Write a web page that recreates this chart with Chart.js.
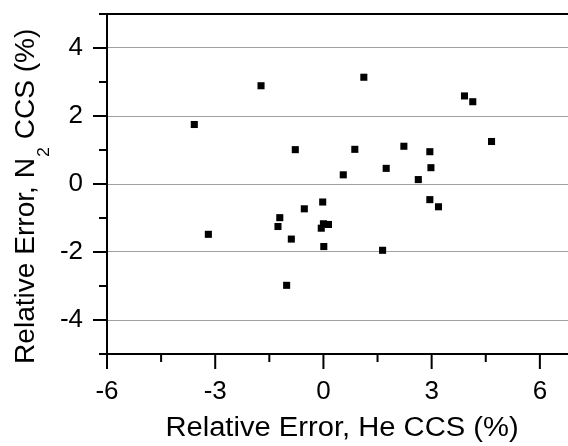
<!DOCTYPE html>
<html>
<head>
<meta charset="utf-8">
<script src="https://cdn.jsdelivr.net/npm/chart.js@4.4.1/dist/chart.umd.min.js"></script>
<style>
    html, body { margin: 0; padding: 0; background: #fff; }
    #wrap { width: 568px; height: 446px; }
</style>
</head>
<body>
<div id="wrap"><canvas id="myChart"></canvas></div>
<script>
// relative errors (%)
const heErr = [-3.58, -1.73, 1.12, 3.91, 4.14, -0.78, 0.87, 2.23, 2.95, 4.66,
    0.55, 1.74, 2.98, 2.63, 2.95, 3.19, -0.02, -0.53, -1.21, -1.26,
    0.00, 0.14, -0.06, -3.19, -0.89, 0.01, 1.64, -1.02];
const n2Err = [1.75, 2.89, 3.14, 2.59, 2.42, 1.01, 1.02, 1.11, 0.95, 1.25,
    0.27, 0.46, 0.48, 0.13, -0.46, -0.67, -0.53, -0.73, -0.99, -1.25,
    -1.17, -1.19, -1.30, -1.48, -1.62, -1.84, -1.95, -2.98];

const xTicks = [-6, -3, 0, 3, 6];
const xMinor = [-4.5, -1.5, 1.5, 4.5];
const yTicks = [-4, -2, 0, 2, 4];
const yMinor = [-5, -3, -1, 1, 3, 5];

const FONT = 'Arial, "Liberation Sans", sans-serif';

Chart.defaults.font.family = FONT;
Chart.defaults.color = '#000';

// axis frame, tick marks and axis titles (with the N2 subscript)
const frame = {
    id: 'frame',
    afterDraw(chart) {
        const {ctx, chartArea: a, scales: {x, y}} = chart;
        ctx.save();
        ctx.strokeStyle = '#000';
        ctx.lineWidth = 2;
        ctx.beginPath();
        ctx.moveTo(a.left, a.top); ctx.lineTo(a.right, a.top);
        ctx.moveTo(a.left, a.top); ctx.lineTo(a.left, a.bottom);
        ctx.moveTo(a.left, a.bottom); ctx.lineTo(a.right, a.bottom);
        yTicks.forEach(v => {
            const p = y.getPixelForValue(v);
            ctx.moveTo(a.left - 14, p); ctx.lineTo(a.left, p);
        });
        yMinor.forEach(v => {
            const p = y.getPixelForValue(v);
            ctx.moveTo(a.left - 8, p); ctx.lineTo(a.left, p);
        });
        xTicks.forEach(v => {
            const p = x.getPixelForValue(v);
            ctx.moveTo(p, a.bottom); ctx.lineTo(p, a.bottom + 15);
        });
        xMinor.forEach(v => {
            const p = x.getPixelForValue(v);
            ctx.moveTo(p, a.bottom); ctx.lineTo(p, a.bottom + 8);
        });
        ctx.stroke();

        ctx.fillStyle = '#000';
        ctx.textBaseline = 'alphabetic';
        ctx.font = '27px ' + FONT;

        // x title, a little wider than the installed Arial metric
        ctx.save();
        ctx.translate(342, 436);
        ctx.scale(1.08, 1);
        ctx.textAlign = 'center';
        ctx.fillText('Relative Error, He CCS (%)', 0, 0);
        ctx.restore();

        // y title with subscript
        ctx.translate(33.5, 364);
        ctx.rotate(-Math.PI / 2);
        ctx.scale(1.04, 1);
        ctx.textAlign = 'left';
        const s1 = 'Relative Error, N';
        ctx.fillText(s1, 0, 0);
        let w = ctx.measureText(s1).width;
        ctx.font = '17px ' + FONT;
        ctx.fillText('2', w + 1, 15);
        w += ctx.measureText('2').width + 1;
        ctx.font = '27px ' + FONT;
        ctx.fillText(' CCS (%)', w, 0);
        ctx.restore();
    }
};

new Chart(document.getElementById('myChart'), {
    type: 'scatter',
    data: {
        datasets: [{
            data: heErr.map((v, i) => ({x: v, y: n2Err[i]})),
            pointStyle: 'rect',
            pointRadius: 5,
            pointHoverRadius: 5,
            backgroundColor: '#000',
            borderColor: '#000',
            borderWidth: 0
        }]
    },
    options: {
        responsive: true,
        maintainAspectRatio: false,
        animation: false,
        layout: {autoPadding: false, padding: {top: 14, left: 0, right: 0, bottom: 0}},
        plugins: {
            legend: {display: false},
            tooltip: {enabled: false}
        },
        scales: {
            x: {
                type: 'linear',
                min: -6,
                max: 6.78,
                afterBuildTicks: s => { s.ticks = xTicks.map(v => ({value: v})); },
                afterFit: s => { s.height = 92; s.paddingLeft = 0; s.paddingRight = 0; },
                grid: {display: false, drawTicks: false},
                border: {display: false},
                ticks: {font: {size: 26}, padding: 22, maxRotation: 0}
            },
            y: {
                type: 'linear',
                min: -5,
                max: 5,
                afterBuildTicks: s => { s.ticks = yTicks.map(v => ({value: v})); },
                afterFit: s => { s.width = 107; s.paddingTop = 0; s.paddingBottom = 0; },
                grid: {color: '#a0a0a0', lineWidth: 1, drawTicks: false},
                border: {display: false},
                ticks: {font: {size: 26}, padding: 24}
            }
        }
    },
    plugins: [frame]
});
</script>
</body>
</html>
